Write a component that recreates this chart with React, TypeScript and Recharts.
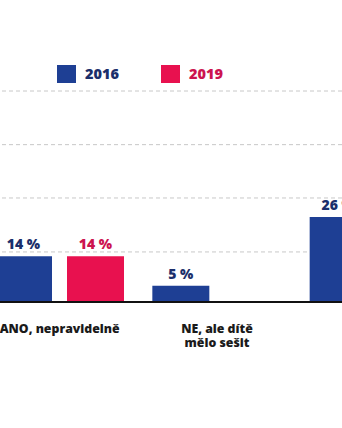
import React from "react";
import { BarChart, Bar, XAxis, YAxis, CartesianGrid, LabelList } from "recharts";

const categories = ["ANO, nepravidelně", "NE, ale dítě\nmělo sešit", "NE"];
const values2016 = [14, 5, 26];
const values2019: (number | null)[] = [14, null, null];
const gridTicks = [0, 15.3, 31.8, 48.1, 64.5];
const seriesNames = ["2016", "2019"];

const BLUE = "#1e3f94";
const PINK = "#e8114f";
const BLUE_TEXT = "#1b2f6b";
const PINK_TEXT = "#cc1450";
const FONT = "'Open Sans', 'Noto Sans', sans-serif";

const data = categories.map((c, i) => ({
  name: c,
  y2016: values2016[i],
  y2019: values2019[i],
}));

const CatTick = (props: any) => {
  const { x, y, payload } = props;
  const lines = String(payload.value).split("\n");
  return (
    <text
      x={x}
      y={y}
      textAnchor="middle"
      fill="#1a1a1a"
      fontFamily={FONT}
      fontWeight={800}
      fontSize={12.3}
    >
      {lines.map((l, i) => (
        <tspan key={i} x={x} dy={i === 0 ? 23 : 13.5}>
          {l}
        </tspan>
      ))}
    </text>
  );
};

const LegendBox = () => {
  const items = [
    { name: seriesNames[0], color: BLUE, text: BLUE_TEXT },
    { name: seriesNames[1], color: PINK, text: PINK_TEXT },
  ];
  return (
    <div
      style={{
        position: "absolute",
        top: 65,
        left: 57,
        display: "flex",
        alignItems: "center",
        fontFamily: FONT,
      }}
    >
      {items.map((it, i) => (
        <div
          key={it.name}
          style={{ display: "flex", alignItems: "center", marginRight: i === 0 ? 42 : 0 }}
        >
          <div style={{ width: 19, height: 18, background: it.color, marginRight: 9 }} />
          <span style={{ color: it.text, fontWeight: 800, fontSize: 14.5, lineHeight: "18px" }}>
            {it.name}
          </span>
        </div>
      ))}
    </div>
  );
};

export default function App() {
  return (
    <div
      style={{
        position: "absolute",
        left: 0,
        top: 0,
        width: 342,
        height: 428,
        overflow: "hidden",
        background: "#fff",
      }}
    >
      <div style={{ position: "absolute", left: -19, top: 0 }}>
        <BarChart
          width={472}
          height={428}
          data={data}
          margin={{ top: 91, right: 0, bottom: 0, left: 0 }}
          barSize={57}
          barGap={15}
          style={{ fontFamily: FONT }}
        >
          <CartesianGrid vertical={false} stroke="#c8c8c8" strokeDasharray="4 3" />
          <YAxis hide domain={[0, 64.5]} ticks={gridTicks} />
          <XAxis
            dataKey="name"
            height={126}
            tickLine={false}
            axisLine={{ stroke: "#111", strokeWidth: 2 }}
            tick={<CatTick />}
            interval={0}
          />
          <Bar dataKey="y2016" name={seriesNames[0]} fill={BLUE} isAnimationActive={false}>
            <LabelList
              dataKey="y2016"
              position="top"
              offset={7}
              formatter={(v: any) => (v == null ? "" : `${v} %`)}
              fill={BLUE_TEXT}
              fontWeight={800}
              fontSize={14}
              fontFamily={FONT}
            />
          </Bar>
          <Bar dataKey="y2019" name={seriesNames[1]} fill={PINK} isAnimationActive={false}>
            <LabelList
              dataKey="y2019"
              position="top"
              offset={7}
              formatter={(v: any) => (v == null ? "" : `${v} %`)}
              fill={PINK_TEXT}
              fontWeight={800}
              fontSize={14}
              fontFamily={FONT}
            />
          </Bar>
        </BarChart>
      </div>
      <LegendBox />
    </div>
  );
}
